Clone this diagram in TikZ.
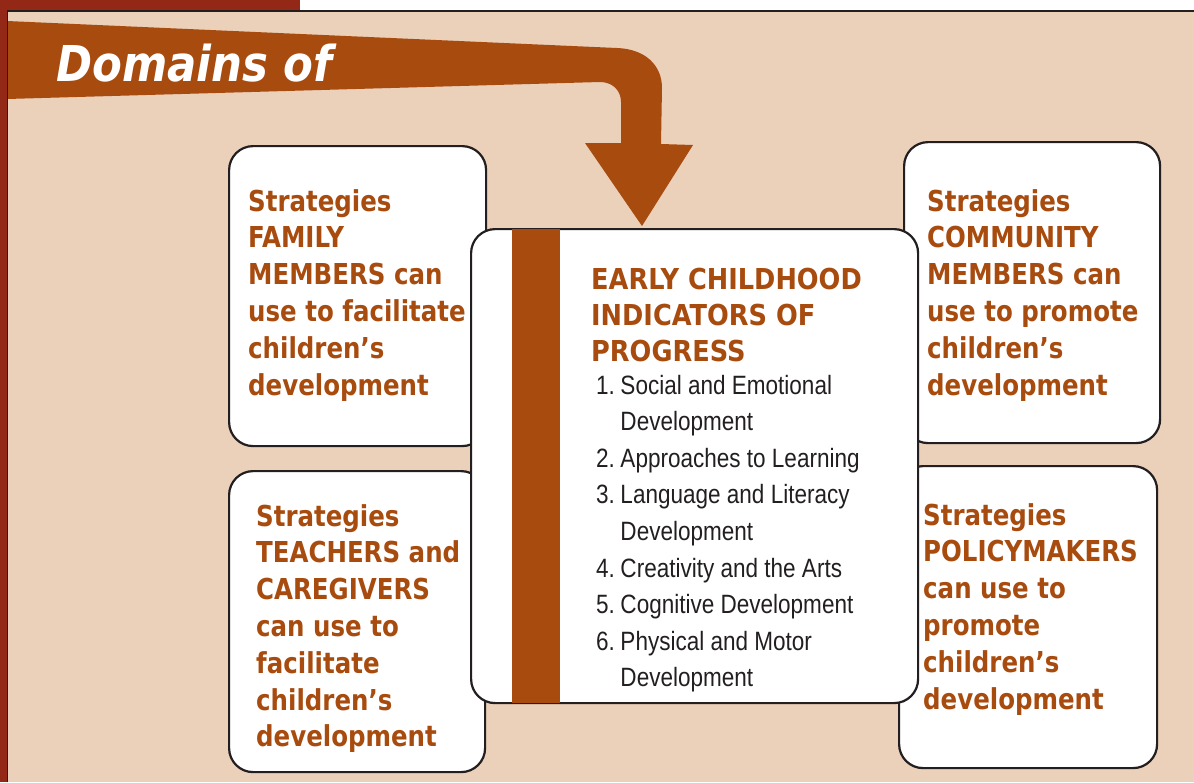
\documentclass[tikz,border=0pt]{standalone}
\usepackage{fontspec}
\usepackage{xcolor}
\usetikzlibrary{positioning}
\newfontfamily\boxfont{DejaVu Sans}[FakeStretch=0.85]
\newfontfamily\titlefont{DejaVu Sans}[FakeStretch=0.89]
\newfontfamily\bannerfont{DejaVu Sans}[FakeStretch=0.88]
\newfontfamily\listfont{Liberation Sans}[FakeStretch=0.85]
\definecolor{panel}{RGB}{235,208,186}
\definecolor{rust}{RGB}{168,75,14}
\definecolor{edgered}{RGB}{148,40,22}
\definecolor{ink}{RGB}{35,31,32}

\begin{document}
\begin{tikzpicture}[x=1pt,y=-1pt,
  sbox/.style={draw=ink,line width=2.2pt,fill=white,rounded corners=24pt,
    anchor=north west,inner sep=0pt},
  stext/.style={inner sep=0pt,anchor=base west,text=rust,
    font=\boxfont\bfseries\fontsize{28.8}{36.8}\selectfont}]
\useasboundingbox (0,0) rectangle (1194,782);
\fill[white] (0,0) rectangle (1194,782);
\fill[edgered] (0,0) rectangle (300,10);
\fill[edgered] (0,0) rectangle (7,782);
\fill[panel] (7,11) rectangle (1194,782);

% banner bending down into an arrow
\fill[rust] (7,21) -- (617,48) .. controls (645,49) and (662,65) .. (662,88)
  -- (661,144) -- (693,145) -- (642,226) -- (585,143) -- (621,143)
  -- (621,102) .. controls (621,90) and (612,82) .. (600,82) -- (7,99) -- cycle;
\draw[ink,line width=1.5pt] (7.5,782) |- (1194,10.8);
\node[anchor=base west,inner sep=0pt,text=white,
  font=\bannerfont\bfseries\itshape\fontsize{49.4}{50}\selectfont]
  (banner) at (56,81) {Domains of};

% strategy boxes
\node[sbox,minimum width=257pt,minimum height=300pt] (family) at (228,145) {};
\node[sbox,minimum width=256pt,minimum height=301pt] (teachers) at (228,470) {};
\node[sbox,minimum width=256pt,minimum height=301pt] (community) at (903,141) {};
\node[sbox,minimum width=258pt,minimum height=302pt] (policy) at (898,465) {};

% indicators box
\node[sbox,minimum width=447pt,minimum height=474pt] (eci) at (470,228) {};
\fill[rust] ([xshift=42pt,yshift=-1.1pt]eci.north west)
  rectangle ([xshift=90pt,yshift=1.1pt]eci.south west);

\node[stext] (familytext) at (248,211) {\begin{tabular}[t]{@{}l@{}}
  Strategies\\ FAMILY\\ MEMBERS can\\ use to facilitate\\ children’s\\ development
  \end{tabular}};
\node[stext] (teacherstext) at (256,526) {\begin{tabular}[t]{@{}l@{}}
  Strategies\\ TEACHERS and\\ CAREGIVERS\\ can use to\\ facilitate\\ children’s\\ development
  \end{tabular}};
\node[stext] (communitytext) at (927,211) {\begin{tabular}[t]{@{}l@{}}
  Strategies\\ COMMUNITY\\ MEMBERS can\\ use to promote\\ children’s\\ development
  \end{tabular}};
\node[stext] (policytext) at (923,525) {\begin{tabular}[t]{@{}l@{}}
  Strategies\\ POLICYMAKERS\\ can use to\\ promote\\ children’s\\ development
  \end{tabular}};

\node[stext,font=\titlefont\bfseries\fontsize{28.8}{36}\selectfont]
  (title) at (591,289) {\begin{tabular}[t]{@{}l@{}}
  EARLY CHILDHOOD\\ INDICATORS OF\\ PROGRESS
  \end{tabular}};
\node[inner sep=0pt,anchor=base west,text=ink,
  font=\listfont\fontsize{26.5}{36.6}\selectfont]
  (domains) at (596,394) {\begin{tabular}[t]{@{}l@{\hspace{5.5pt}}l@{}}
  1. & Social and Emotional\\
     & Development\\
  2. & Approaches to Learning\\
  3. & Language and Literacy\\
     & Development\\
  4. & Creativity and the Arts\\
  5. & Cognitive Development\\
  6. & Physical and Motor\\
     & Development
  \end{tabular}};
\end{tikzpicture}
\end{document}
